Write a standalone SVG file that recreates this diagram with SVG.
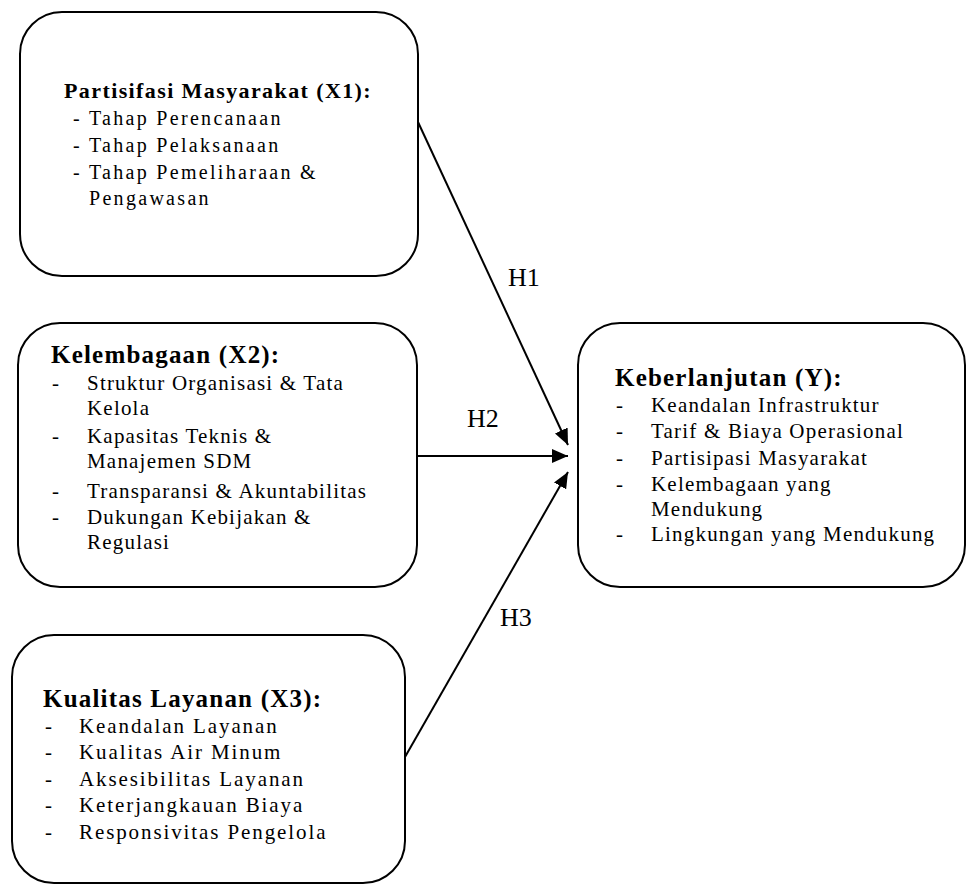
<svg xmlns="http://www.w3.org/2000/svg" width="968" height="887" viewBox="0 0 968 887">
<style>
  .box { fill: #ffffff; stroke: #000000; stroke-width: 2; }
  .t { font-family: "Liberation Serif", "Times New Roman", serif; fill: #000000; }
  .h1t { font-size: 22px; font-weight: bold; letter-spacing: 1.4px; }
  .ht { font-size: 25px; font-weight: bold; letter-spacing: 1.2px; }
  .it1 { font-size: 20px; letter-spacing: 2.3px; }
  .it { font-size: 21px; letter-spacing: 1.2px; }
  .it3 { font-size: 21px; letter-spacing: 1.9px; }
  .lbl { font-size: 26px; }
  .conn { stroke: #000000; stroke-width: 2; fill: none; marker-end: url(#arr); }
</style>
<defs>
  <marker id="arr" viewBox="0 0 16 14" refX="16" refY="7" markerWidth="16" markerHeight="14" markerUnits="userSpaceOnUse" orient="auto">
    <path d="M0,0 L16,7 L0,14 z" fill="#000000"/>
  </marker>
</defs>
<rect width="968" height="887" fill="#ffffff"/>

<g id="connectors">
  <line class="conn" x1="418" y1="122" x2="568" y2="445"/>
  <line class="conn" x1="417" y1="456" x2="568" y2="456"/>
  <line class="conn" x1="405" y1="757" x2="568" y2="472"/>
  <text class="t lbl" x="508" y="286">H1</text>
  <text class="t lbl" x="467" y="427">H2</text>
  <text class="t lbl" x="500" y="626">H3</text>
</g>

<g id="x1">
  <rect class="box" x="20" y="12" width="398" height="264" rx="42" ry="42"/>
  <text class="t h1t" x="64" y="98">Partisifasi Masyarakat (X1):</text>
  <text class="t it1" x="73" y="125">-</text><text class="t it1" x="89" y="125">Tahap Perencanaan</text>
  <text class="t it1" x="73" y="152">-</text><text class="t it1" x="89" y="152">Tahap Pelaksanaan</text>
  <text class="t it1" x="73" y="179">-</text><text class="t it1" x="89" y="179">Tahap Pemeliharaan &amp;</text>
  <text class="t it1" x="89" y="205">Pengawasan</text>
</g>

<g id="x2">
  <rect class="box" x="18" y="323" width="399" height="264" rx="42" ry="42"/>
  <text class="t ht" x="51" y="363">Kelembagaan (X2):</text>
  <text class="t it" x="52" y="390">-</text><text class="t it" x="87" y="390">Struktur Organisasi &amp; Tata</text>
  <text class="t it" x="87" y="415">Kelola</text>
  <text class="t it" x="52" y="443">-</text><text class="t it" x="87" y="443">Kapasitas Teknis &amp;</text>
  <text class="t it" x="87" y="468">Manajemen SDM</text>
  <text class="t it" x="52" y="498">-</text><text class="t it" x="87" y="498">Transparansi &amp; Akuntabilitas</text>
  <text class="t it" x="52" y="524">-</text><text class="t it" x="87" y="524">Dukungan Kebijakan &amp;</text>
  <text class="t it" x="87" y="549">Regulasi</text>
</g>

<g id="x3">
  <rect class="box" x="12" y="635" width="393" height="248" rx="42" ry="42"/>
  <text class="t ht" x="43" y="707">Kualitas Layanan (X3):</text>
  <text class="t it3" x="45" y="733">-</text><text class="t it3" x="79" y="733">Keandalan Layanan</text>
  <text class="t it3" x="45" y="759">-</text><text class="t it3" x="79" y="759">Kualitas Air Minum</text>
  <text class="t it3" x="45" y="786">-</text><text class="t it3" x="79" y="786">Aksesibilitas Layanan</text>
  <text class="t it3" x="45" y="812">-</text><text class="t it3" x="79" y="812">Keterjangkauan Biaya</text>
  <text class="t it3" x="45" y="839">-</text><text class="t it3" x="79" y="839">Responsivitas Pengelola</text>
</g>

<g id="y">
  <rect class="box" x="578" y="323" width="387" height="264" rx="42" ry="42"/>
  <text class="t ht" x="615" y="386">Keberlanjutan (Y):</text>
  <text class="t it" x="616" y="412">-</text><text class="t it" x="651" y="412">Keandalan Infrastruktur</text>
  <text class="t it" x="616" y="438">-</text><text class="t it" x="651" y="438">Tarif &amp; Biaya Operasional</text>
  <text class="t it" x="616" y="465">-</text><text class="t it" x="651" y="465">Partisipasi Masyarakat</text>
  <text class="t it" x="616" y="491">-</text><text class="t it" x="651" y="491">Kelembagaan yang</text>
  <text class="t it" x="651" y="516">Mendukung</text>
  <text class="t it" x="616" y="541">-</text><text class="t it" x="651" y="541">Lingkungan yang Mendukung</text>
</g>
</svg>
